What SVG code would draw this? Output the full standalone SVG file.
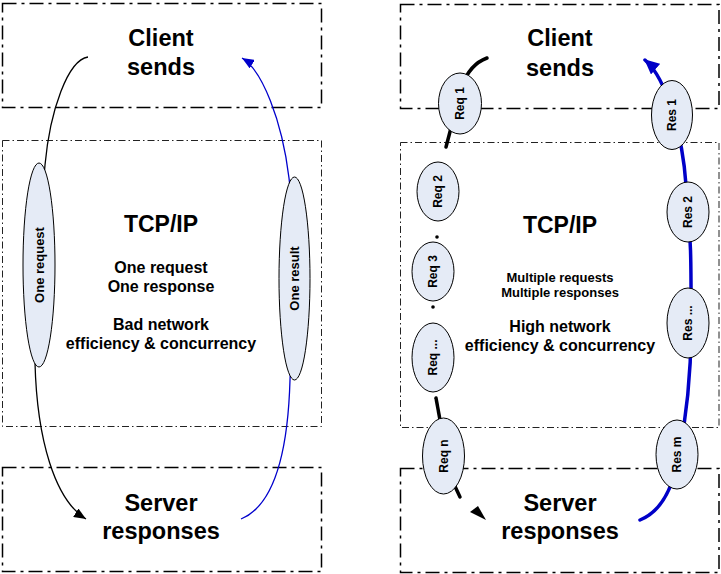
<svg xmlns="http://www.w3.org/2000/svg" width="721" height="574" viewBox="0 0 721 574">
<style>
.bg{fill:#fff}
.boxA{fill:none;stroke:#000;stroke-width:1.5;stroke-dasharray:14 5 3 5}
.boxB{fill:none;stroke:#222;stroke-width:1;stroke-dasharray:7 3 1.5 3}
.big{font-family:"Liberation Sans",Arial,sans-serif;font-weight:bold;font-size:23.5px;text-anchor:middle;fill:#000}
.tcp{font-family:"Liberation Sans",Arial,sans-serif;font-weight:bold;font-size:23px;text-anchor:middle;fill:#000}
.mid{font-family:"Liberation Sans",Arial,sans-serif;font-weight:bold;font-size:16px;text-anchor:middle;fill:#000}
.sm{font-family:"Liberation Sans",Arial,sans-serif;font-weight:bold;font-size:13px;text-anchor:middle;fill:#000}
.pk{fill:#e5ebf6;stroke:#000;stroke-width:1}
.pt{font-family:"Liberation Sans",Arial,sans-serif;font-weight:bold;font-size:12px;text-anchor:middle;fill:#000}
.pt13{font-family:"Liberation Sans",Arial,sans-serif;font-weight:bold;font-size:13px;text-anchor:middle;fill:#000}
.thinK{fill:none;stroke:#000;stroke-width:1.3}
.thinB{fill:none;stroke:#0000cc;stroke-width:1.3}
.thickK{fill:none;stroke:#000;stroke-width:3.5;stroke-linecap:round}
.thickB{fill:none;stroke:#0000c8;stroke-width:3.5;stroke-linecap:round}
</style>
<defs>
<marker id="ahK" markerUnits="userSpaceOnUse" markerWidth="13" markerHeight="10" refX="12" refY="5" orient="auto"><path d="M0,0 L12,5 L0,10 z" fill="#000"/></marker>
<marker id="ahB" markerUnits="userSpaceOnUse" markerWidth="13" markerHeight="10" refX="12" refY="5" orient="auto"><path d="M0,0 L12,5 L0,10 z" fill="#0000cc"/></marker>
<marker id="ahBB" markerUnits="userSpaceOnUse" markerWidth="16" markerHeight="14" refX="14" refY="7" orient="auto"><path d="M0,0 L15,7 L0,14 z" fill="#0000c8"/></marker>
</defs>
<rect class="bg" x="0" y="0" width="721" height="574"/>

<g id="left-client"><rect class="boxA" x="2.5" y="3.5" width="319" height="104"/><text class="big" x="161" y="46">Client</text><text class="big" x="161" y="75">sends</text></g>
<g id="left-tcp"><rect class="boxB" x="2.5" y="140.5" width="319" height="286"/><text class="tcp" x="161" y="232">TCP/IP</text><text class="mid" x="161" y="273">One request</text><text class="mid" x="161" y="292">One response</text><text class="mid" x="161" y="330">Bad network</text><text class="mid" x="161" y="349">efficiency &amp; concurrency</text></g>
<g id="left-server"><rect class="boxA" x="2.5" y="467.5" width="319" height="104"/><text class="big" x="161" y="511">Server</text><text class="big" x="161" y="539">responses</text></g>

<g id="right-client"><rect class="boxA" x="400.5" y="4.5" width="318.5" height="104"/><text class="big" x="560" y="46">Client</text><text class="big" x="560" y="76">sends</text></g>
<g id="right-tcp"><rect class="boxB" x="400.5" y="142.5" width="318.5" height="285"/><text class="tcp" x="560" y="233">TCP/IP</text><text class="sm" x="560" y="282">Multiple requests</text><text class="sm" x="560" y="297">Multiple responses</text><text class="mid" x="560" y="332">High network</text><text class="mid" x="560" y="351">efficiency &amp; concurrency</text></g>
<g id="right-server"><rect class="boxA" x="400.5" y="468.5" width="318.5" height="104"/><text class="big" x="560" y="511">Server</text><text class="big" x="560" y="539">responses</text></g>

<g id="connectors">
<path class="thinK" d="M 88 57 C 68 60, 50 110, 45 165 C 40 220, 33 300, 35 363 C 37 440, 55 500, 86 519" marker-end="url(#ahK)"/>
<path class="thinB" d="M 241 519 C 275 505, 288 450, 290 380 C 293 320, 295 230, 289 178 C 282 120, 262 70, 242 58" marker-end="url(#ahB)"/>
<path class="thickK" d="M 487 58 C 476 62, 467 72, 462 86 L 446 147"/>
<circle cx="437" cy="237" r="1.8" fill="#000"/>
<circle cx="433" cy="307" r="1.8" fill="#000"/>
<path class="thickK" d="M 436 398 L 440 420"/>
<path class="thickK" d="M 452 480 L 460 497"/>
<polygon points="470,512 486,520 478,506" fill="#000"/>
<path class="thickB" d="M 640 520 C 660 512, 672 490, 678 460 C 686 420, 691 380, 691 330 C 691 280, 692 240, 686 185 C 683 140, 668 80, 645 60" marker-end="url(#ahBB)"/>
</g>

<g id="one-request"><ellipse class="pk" cx="39" cy="265" rx="16" ry="102"/><text class="pt13" transform="translate(39,265) rotate(-90)" y="4.5">One request</text></g>
<g id="one-result"><ellipse class="pk" cx="294.5" cy="278.5" rx="15.5" ry="101.5"/><text class="pt13" transform="translate(294.5,278.5) rotate(-90)" y="4.5">One result</text></g>

<g id="req1"><ellipse class="pk" cx="460" cy="103.5" rx="21.5" ry="30.5"/><text class="pt" transform="translate(460,103.5) rotate(-90)" y="4.3">Req 1</text></g>
<g id="req2"><ellipse class="pk" cx="438" cy="191.5" rx="21" ry="29.5"/><text class="pt" transform="translate(438,191.5) rotate(-90)" y="4.3">Req 2</text></g>
<g id="req3"><ellipse class="pk" cx="433" cy="271.5" rx="21" ry="29.5"/><text class="pt" transform="translate(433,271.5) rotate(-90)" y="4.3">Req 3</text></g>
<g id="reqdots"><ellipse class="pk" cx="433" cy="357.5" rx="21" ry="34.5"/><text class="pt" transform="translate(433,357.5) rotate(-90)" y="4.3">Req ...</text></g>
<g id="reqn"><ellipse class="pk" cx="443.5" cy="456" rx="21" ry="38"/><text class="pt" transform="translate(443.5,456) rotate(-90)" y="4.3">Req n</text></g>

<g id="res1"><ellipse class="pk" cx="672" cy="115" rx="20.5" ry="34.5"/><text class="pt" transform="translate(672,115) rotate(-90)" y="4.3">Res 1</text></g>
<g id="res2"><ellipse class="pk" cx="688" cy="212" rx="21" ry="30"/><text class="pt" transform="translate(688,212) rotate(-90)" y="4.3">Res 2</text></g>
<g id="resdots"><ellipse class="pk" cx="688" cy="323" rx="21" ry="35"/><text class="pt" transform="translate(688,323) rotate(-90)" y="4.3">Res ...</text></g>
<g id="resm"><ellipse class="pk" cx="677" cy="454.5" rx="21" ry="34.5"/><text class="pt" transform="translate(677,454.5) rotate(-90)" y="4.3">Res m</text></g>
</svg>
